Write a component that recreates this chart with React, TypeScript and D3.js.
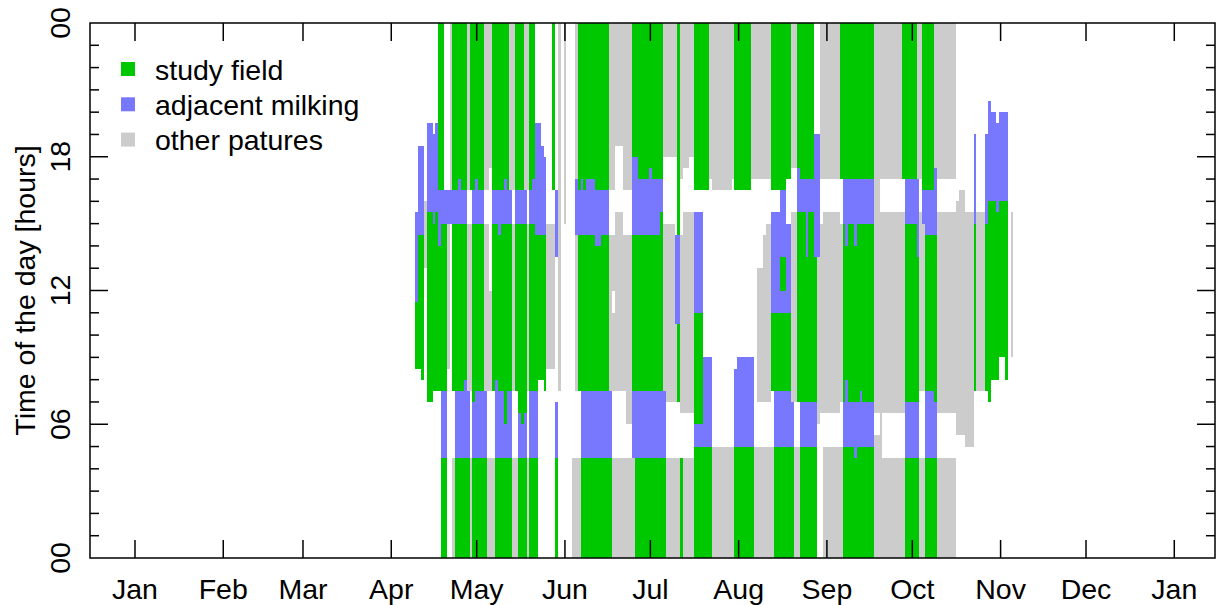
import React from "react";
import * as d3 from "d3";

// day-of-year axis (non leap year), month starts
const monthNames = ["Jan", "Feb", "Mar", "Apr", "May", "Jun", "Jul", "Aug", "Sep", "Oct", "Nov", "Dec", "Jan"];
const monthStart = [0, 31, 59, 90, 120, 151, 181, 212, 243, 273, 304, 334, 365];

const hourTicks = [0, 6, 12, 18, 24];
const hourLabels = ["00", "06", "12", "18", "00"];

const legendLabels = ["study field", "adjacent milking", "other patures"];
const legendKeys = ["G", "B", "Y"];

const colors: Record<string, string> = { G: "#00C800", B: "#7878FF", Y: "#CCCCCC" };

// Each entry = one day (or "n*" repeated days). Code: letter + end half-hour slot,
// G study field, B adjacent milking, Y other pastures, W no record. Last letter runs to 48.
const firstDay = 99;

const aprCols = [
  "W17G23B31W", "W17G29B37W", "W16G29B37W", "W26Y32W", "2*W14G31B39W", "W15G30B38W",
  "W15G31B39W", "W15G28B33G", "G9B15G30B33G", "G9B15G30B33W", "W17Y30B33W", "W30B33Y",
  "Y9W15G30B33G", "G9B15G30B33G", "G9B15G30B34G", "G9B15G30B33G", "G9B16G30B33G",
  "G9B15Y30W33Y", "Y9W15Y30W33G", "G9B14G30B33G",
];

const mayCols = [
  "G9B15G30B34G", "2*G9B15G30B33G", "G9B15Y30W33Y", "Y9W15Y30W33Y", "Y9W15Y24W35Y",
  "Y9W15G30B33G", "G9B16G30B33G", "G9B15G29B33G", "G9B15G30B33G", "G9B12G30B34G",
  "G9B15G30B33G", "G9B15G30B33Y", "Y9W15Y30W33Y", "Y9W15G30B33G", "G9B13G30B33G",
  "G9B12G30B33G", "G9B13G30B33Y", "Y9W15Y30W33Y", "G9B15G30B33G", "G9B15G30B34G",
  "G9B15G29B39W", "W16G29B39W", "W16G29B37W", "W15G29B36W", "2*W17Y30W", "W17Y30W33G",
  "G9B14W27B33W", "W15Y", "W",
];

const junCols = [
  "W30Y", "2*W", "Y9W", "Y9W15Y29B34Y", "Y9W15G29B33G", "G9B15G29B34G", "G9B15G29B33G",
  "3*G9B15G29B34G", "2*G9B15G28B33G", "3*G9B15G29B33G", "G9B15Y29W33Y",
  "Y9W15Y22W24Y29W33Y", "3*Y9W15Y31W37Y", "Y9W15Y29W33Y", "2*Y9W12Y29W33Y",
  "Y9B15G29B36G", "G9B15G29B36G", "4*G9B15G29B34G",
];

const julCols = [
  "G9B15G29B35G", "3*G9B15G29B34G", "G9B15G31B34G", "G9B15Y30W36Y", "3*Y9W14Y30W36Y",
  "Y9W14Y21B29W36Y", "Y9W14G21B29G", "G9W13Y29W34Y", "2*Y9W13Y31W35Y", "2*Y9W13Y31W36Y",
  "3*G10B12G22B31W33G", "2*G10B18W33G", "G10B18W34Y", "7*Y10W33Y", "Y10W34Y", "G10B17W33G",
];

const augCols = [
  "5*G10B18W33G", "G10B18W34Y", "Y10W34Y", "2*Y10W14Y26W34Y", "Y10W14Y29W34Y",
  "2*Y10W14Y30W34Y", "Y10W15G22B31W33G", "2*G10B15G22B31W33G", "2*G10B15G22B24G27B33G",
  "2*G10B15G22B30W34G", "G10B14Y31W35Y", "Y10W14Y31W35Y", "Y10W14G31B35G",
  "2*G10B14G31B34G", "G10B14G27B34G", "2*G10B14G31B34G", "G10B14G27B38W", "W12Y27B38W",
  "W13Y30W34Y", "Y10W13Y31W34Y",
];

const sepCols = [
  "5*Y10W13Y31W34Y", "Y10W14Y30W34G", "G10B14G30B34G", "G10B16G28B34G", "2*G10B14G30B34G",
  "G9B14G28B34G", "G10B14G30B34G", "G10B15G30B34G", "4*G10B14G30B34G", "2*Y11W13Y",
  "Y31W34Y", "7*Y9W13Y31W34Y", "Y9W13Y31W34G", "2*G9B14G30B34G",
];

const octCols = [
  "2*G9B14G30B34G", "G9B14G27B34Y", "Y9W15Y31W34Y", "Y9W15Y30B33G", "3*G9B15G29B33G",
  "G9B14G29B35Y", "7*Y9W13Y31W34Y", "W11Y32W", "2*W11Y33W", "3*W10Y31W", "W15G30B38W",
  "3*W15Y31W", "W15G30B38W", "W14G32B41W", "2*W16G32B40W", "W16G31B39W",
];

const novCols = ["2*W18G32B40W", "W16G32B40W", "W", "W18Y31W"];

const seasonCols = [aprCols, mayCols, junCols, julCols, augCols, sepCols, octCols, novCols];

type Cell = { day: number; cat: string; h0: number; h1: number };

function buildCells(): Cell[] {
  const cells: Cell[] = [];
  let day = firstDay;
  seasonCols.forEach((list) => {
    list.forEach((item) => {
      const m = item.match(/^(\d+)\*(.*)$/);
      const n = m ? +m[1] : 1;
      const code = m ? m[2] : item;
      for (let k = 0; k < n; k++) {
        let from = 0;
        const re = /([GBYW])(\d*)/g;
        let t: RegExpExecArray | null;
        while ((t = re.exec(code))) {
          const to = t[2] === "" ? 48 : +t[2];
          if (t[1] !== "W" && to > from) cells.push({ day, cat: t[1], h0: from / 2, h1: to / 2 });
          from = to;
        }
        day++;
      }
    });
  });
  return cells;
}

const W = 1216;
const H = 605;
const plot = { left: 90, right: 1215, top: 23, bottom: 558 };
const font = "'Liberation Sans', Arial, sans-serif";
const fs = 28.5;

export default function App() {
  const x = d3.scaleLinear().domain([-15.8, 379.3]).range([plot.left, plot.right]);
  const y = d3.scaleLinear().domain([0, 24]).range([plot.bottom, plot.top]);
  const cells = buildCells();
  const hours = d3.range(1, 24);

  return (
    <svg width={W} height={H} style={{ position: "absolute", left: 0, top: 0, background: "#fff" }}>
      <g shapeRendering="crispEdges">
        {cells.map((c, i) => (
          <rect
            key={i}
            x={x(c.day - 0.5)}
            width={x(c.day + 0.5) - x(c.day - 0.5)}
            y={y(c.h1)}
            height={y(c.h0) - y(c.h1)}
            fill={colors[c.cat]}
          />
        ))}
      </g>

      {/* frame */}
      <rect
        x={plot.left}
        y={plot.top}
        width={plot.right - plot.left}
        height={plot.bottom - plot.top}
        fill="none"
        stroke="#000"
        strokeWidth={1.5}
      />

      {/* month ticks, top and bottom, inward */}
      {monthStart.map((d, i) => (
        <g key={"m" + i} stroke="#000" strokeWidth={1.5}>
          <line x1={x(d)} x2={x(d)} y1={plot.bottom} y2={plot.bottom - 18} />
          <line x1={x(d)} x2={x(d)} y1={plot.top} y2={plot.top + 18} />
        </g>
      ))}
      {monthNames.map((m, i) => (
        <text key={"ml" + i} x={x(monthStart[i])} y={599} textAnchor="middle" fontFamily={font} fontSize={fs}>
          {m}
        </text>
      ))}

      {/* hour ticks on both sides */}
      {hours.map((h) => {
        const len = h % 6 === 0 ? 18 : 9;
        return (
          <g key={"h" + h} stroke="#000" strokeWidth={1.5}>
            <line x1={plot.left} x2={plot.left + len} y1={y(h)} y2={y(h)} />
            <line x1={plot.right} x2={plot.right - len} y1={y(h)} y2={y(h)} />
          </g>
        );
      })}
      {hourTicks.map((h, i) => (
        <text
          key={"hl" + i}
          transform={`translate(70,${y(h)}) rotate(-90)`}
          textAnchor="middle"
          fontFamily={font}
          fontSize={fs}
        >
          {hourLabels[i]}
        </text>
      ))}
      <text
        transform={`translate(35,${(plot.top + plot.bottom) / 2}) rotate(-90)`}
        textAnchor="middle"
        fontFamily={font}
        fontSize={fs}
      >
        Time of the day [hours]
      </text>

      {/* legend */}
      {legendLabels.map((l, i) => (
        <g key={"lg" + i}>
          <rect x={121} y={62 + i * 35.3} width={14} height={14} fill={colors[legendKeys[i]]} />
          <text x={155} y={80 + i * 35} fontFamily={font} fontSize={fs}>
            {l}
          </text>
        </g>
      ))}
    </svg>
  );
}
